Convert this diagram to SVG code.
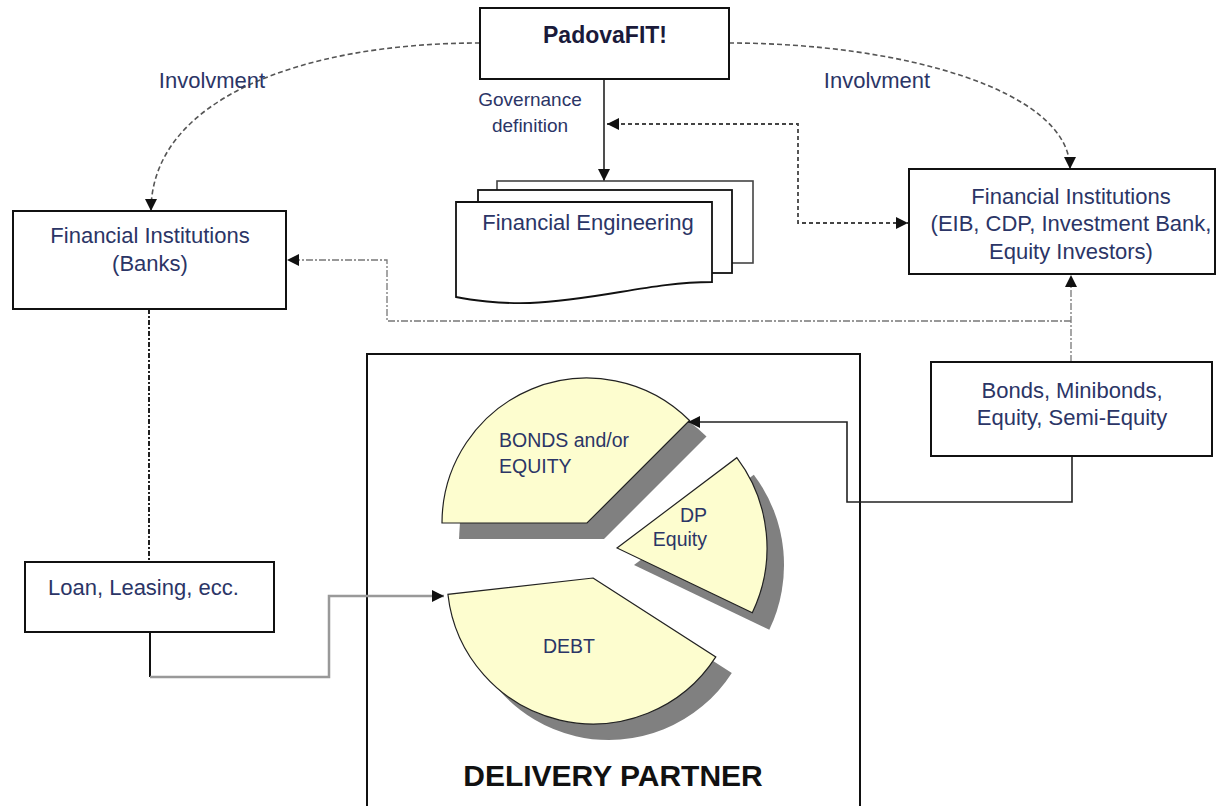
<svg xmlns="http://www.w3.org/2000/svg" width="1218" height="806" viewBox="0 0 1218 806">
<style>
.box{fill:#fff;stroke:#111;stroke-width:2}
.t{font-family:"Liberation Sans",Arial,sans-serif;font-size:22px;fill:#2b3566;text-anchor:middle;dominant-baseline:central}
.ts{font-family:"Liberation Sans",Arial,sans-serif;font-size:19.5px;fill:#2b3566;dominant-baseline:central}
.slice{fill:#fdfdcf;stroke:#222;stroke-width:1.2}
.shadow{fill:#808080}
.dash{fill:none;stroke:#555;stroke-width:1.6;stroke-dasharray:5,3}
.dot{fill:none;stroke:#444;stroke-width:1.8;stroke-dasharray:4,3}
.dashdot{fill:none;stroke:#777;stroke-width:1.3;stroke-dasharray:7,2,2,2}
.solid{fill:none;stroke:#222;stroke-width:1.6}
</style>
<defs>
<marker id="arr" viewBox="0 0 10 10" refX="10" refY="5" markerWidth="15" markerHeight="12" markerUnits="userSpaceOnUse" orient="auto-start-reverse"><path d="M0,0 L10,5 L0,10 z" fill="#111"/></marker>
</defs>

<g id="delivery-partner">
<path d="M367,806 V354 H860 V806" fill="none" stroke="#111" stroke-width="2"/>
<text x="613" y="775" font-family="Liberation Sans,Arial,sans-serif" font-size="30" font-weight="bold" fill="#111" text-anchor="middle" dominant-baseline="central">DELIVERY PARTNER</text>
</g>

<g id="slice-bonds">
<path class="shadow" transform="translate(17,16)" d="M442,523 A145,145 0 0 1 689.5,420.5 L587,523 Z"/>
<path class="slice" d="M442,523 A145,145 0 0 1 689.5,420.5 L587,523 Z"/>
<text class="ts" x="499" y="440">BONDS and/or</text>
<text class="ts" x="499" y="466">EQUITY</text>
</g>
<g id="slice-dp">
<path class="shadow" transform="translate(17,17)" d="M617,548 L736.8,457.7 A150,150 0 0 1 752.3,612.8 Z"/>
<path class="slice" d="M617,548 L736.8,457.7 A150,150 0 0 1 752.3,612.8 Z"/>
<text class="ts" x="707" y="515" style="text-anchor:end">DP</text>
<text class="ts" x="707" y="539" style="text-anchor:end">Equity</text>
</g>
<g id="slice-debt">
<path class="shadow" transform="translate(16,16)" d="M593,578 L715.8,656.9 A146,146 0 0 1 447.9,594.3 Z"/>
<path class="slice" d="M593,578 L715.8,656.9 A146,146 0 0 1 447.9,594.3 Z"/>
<text class="ts" x="569" y="646" style="text-anchor:middle">DEBT</text>
</g>

<g id="connectors">
<path class="dash" d="M480,43 C300,43 151,100 151,211" marker-end="url(#arr)"/>
<path class="dash" d="M729,43 C900,43 1070,90 1070,169" marker-end="url(#arr)"/>
<path class="solid" d="M604,79 V181" marker-end="url(#arr)"/>
<path class="dot" d="M607,124 H798 V223 H908" marker-start="url(#arr)" marker-end="url(#arr)"/>
<path class="dashdot" d="M1071,362 V275" marker-end="url(#arr)"/>
<path class="dashdot" d="M1071,321 H387 V260 H287" marker-end="url(#arr)"/>
<path d="M149,309 V562" fill="none" stroke="#222" stroke-width="2" stroke-dasharray="5,2,2,2"/>
<path d="M150,632 V677" fill="none" stroke="#111" stroke-width="2"/>
<path d="M150,677 H329 V596 H444" fill="none" stroke="#999" stroke-width="2.5" marker-end="url(#arr)"/>
<path class="solid" d="M1072,456 V502 H847 V422 H688" marker-end="url(#arr)"/>
</g>

<g id="padovafit">
<rect class="box" x="480" y="8" width="249" height="71"/>
<text x="605" y="35" font-family="Liberation Sans,Arial,sans-serif" font-size="23" font-weight="bold" fill="#1a1a3a" text-anchor="middle" dominant-baseline="central">PadovaFIT!</text>
</g>

<g id="labels">
<text class="t" x="212" y="80">Involvment</text>
<text class="t" x="877" y="80">Involvment</text>
<text class="t" x="530" y="99" style="font-size:19px">Governance</text>
<text class="t" x="530" y="125" style="font-size:19px">definition</text>
</g>

<g id="financial-engineering">
<rect x="497" y="181" width="256" height="82" fill="#fff" stroke="#444" stroke-width="1.6"/>
<rect x="478" y="190" width="254" height="83" fill="#fff" stroke="#111" stroke-width="1.8"/>
<path d="M456,202 H712 V282 C650,282 600,300 530,303 C500,304 470,300 456,297 Z" fill="#fff" stroke="#111" stroke-width="1.8"/>
<text class="t" x="588" y="222">Financial Engineering</text>
</g>

<g id="banks">
<rect class="box" x="13" y="211" width="273" height="98"/>
<text class="t" x="150" y="235">Financial Institutions</text>
<text class="t" x="150" y="263">(Banks)</text>
</g>

<g id="fi-right">
<rect class="box" x="909" y="169" width="306" height="105"/>
<text class="t" x="1071" y="196">Financial Institutions</text>
<text class="t" x="1071" y="223">(EIB, CDP, Investment Bank,</text>
<text class="t" x="1071" y="251">Equity Investors)</text>
</g>

<g id="bonds-box">
<rect class="box" x="931" y="362" width="281" height="94"/>
<text class="t" x="1072" y="390">Bonds, Minibonds,</text>
<text class="t" x="1072" y="417">Equity, Semi-Equity</text>
</g>

<g id="loan-box">
<rect class="box" x="25" y="562" width="249" height="70"/>
<text class="t" x="48" y="587" style="text-anchor:start">Loan, Leasing, ecc.</text>
</g>
</svg>
